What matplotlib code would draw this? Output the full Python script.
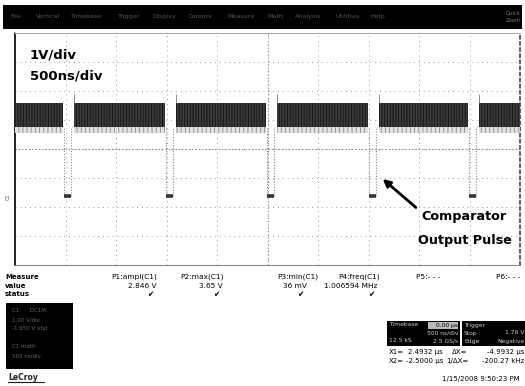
import numpy as np
import matplotlib
matplotlib.use("Agg")
import matplotlib.pyplot as plt
from matplotlib.patches import Rectangle

# scope settings
t_start, t_stop = -2.5, 2.5        # us, 500 ns/div x 10
v_center = 1.65                    # V at screen centre, 1 V/div x 8
pulse_times = [-1.98, -0.97, 0.03, 1.04, 2.03]   # us
pulse_width = 0.07                 # us
band_top = 3.22                    # noisy high level, V
band_bottom = 2.40
band_fringe = 2.20
spike_top = 3.55
v_low = 0.04

menu_items = ["File", "Vertical", "Timebase", "Trigger", "Display", "Cursors",
              "Measure", "Math", "Analysis", "Utilities", "Help"]
menu_x = [10, 36, 70, 117, 152, 188, 227, 267, 295, 335, 370]

meas_labels = ["P1:ampl(C1)", "P2:max(C1)", "P3:min(C1)", "P4:freq(C1)", "P5:- - -", "P6:- - -"]
meas_values = ["2.846 V", "3.65 V", "36 mV", "1.006594 MHz", "", ""]
meas_ok = [True, True, True, True, False, False]
meas_x = [157, 224, 318, 380, 440, 520]
value_x = [157, 223, 307, 378, 440, 520]

W, H = 525, 386


def fx(px):
    return px / W


def fy(py):
    return 1 - py / H


fig = plt.figure(figsize=(W / 100, H / 100), dpi=100)
fig.patch.set_facecolor("white")
plt.rcParams["hatch.linewidth"] = 0.6

# menu bar
fig.patches.append(Rectangle((fx(3), fy(29)), fx(519), 24 / H, transform=fig.transFigure,
                             facecolor="black", edgecolor="none"))
for name, x in zip(menu_items, menu_x):
    fig.text(fx(x), fy(16.5), name, fontsize=4.6, color="#555", va="center")
fig.text(fx(506), fy(13), "Quick", fontsize=3.8, color="#777", va="center")
fig.text(fx(506), fy(20), "Zoom", fontsize=3.8, color="#777", va="center")

# grid area
ax = fig.add_axes([fx(15), fy(265), 505 / W, 232 / H])
ax.set_xlim(t_start, t_stop)
ax.set_ylim(v_center - 4, v_center + 4)
ax.set_xticks(np.linspace(t_start, t_stop, 11))
ax.set_yticks(v_center + np.arange(-4, 5))
ax.tick_params(length=0, labelbottom=False, labelleft=False)
ax.grid(True, linestyle=(0, (1, 4)), color="#9a9a9a", linewidth=0.7)
ax.axhline(v_center, linestyle=(0, (1, 2)), color="#777", linewidth=0.8)
ax.axvline(0, linestyle=(0, (1, 2)), color="#888", linewidth=0.8)
for side, col, ls, lw in [("left", "#222", (0, (2, 1)), 1.4), ("right", "#333", (0, (2, 2)), 1.1),
                          ("top", "#aaa", (0, (3, 1)), 0.8), ("bottom", "#888", (0, (1, 1)), 0.8)]:
    ax.spines[side].set_color(col)
    ax.spines[side].set_linestyle(ls)
    ax.spines[side].set_linewidth(lw)

# trace: noisy high band between pulses
edges = [t_start]
for tp in pulse_times:
    edges += [tp - pulse_width / 2 - 0.01, tp + pulse_width / 2 + 0.025]
edges.append(t_stop)
for a, b in zip(edges[0::2], edges[1::2]):
    xs = np.array([a, b])
    ax.fill_between(xs, band_fringe, band_bottom, facecolor="#e2e2e2", edgecolor="#8a8a8a",
                    hatch="||||", linewidth=0, zorder=3)
    ax.fill_between(xs, band_bottom, band_top, facecolor="#3c3c3c", edgecolor="#111",
                    hatch="||||||", linewidth=0, zorder=4)

for tp in pulse_times:
    fall = tp - pulse_width / 2
    rise = tp + pulse_width / 2
    ax.vlines([fall, rise], v_low, band_bottom, colors="#8a8a8a",
              linestyles=(0, (1, 1.5)), linewidth=0.8, zorder=3)
    ax.vlines(rise + 0.03, band_top, spike_top, colors="#777", linewidth=0.6, zorder=4)
    ax.plot([fall, rise], [v_low, v_low], color="#333", linewidth=2.6,
            solid_capstyle="butt", zorder=5)

# scale labels
fig.text(fx(30), fy(55), "1V/div", fontsize=9.5, weight="bold", va="center")
fig.text(fx(30), fy(76), "500ns/div", fontsize=9.5, weight="bold", va="center")

# annotation
ax.annotate("", xy=(1.12, 0.68), xytext=(1.49, -0.43),
            arrowprops=dict(arrowstyle="-|>", lw=2, color="black", mutation_scale=11), zorder=6)
ax.text(1.52, -0.69, "Comparator", fontsize=9.2, weight="bold", va="center", zorder=6)
ax.text(1.49, -1.49, "Output Pulse", fontsize=9.2, weight="bold", va="center", zorder=6)

fig.text(fx(6), fy(197), "C1", fontsize=3.5, color="#555", rotation=90, va="center")

# measurement table
for label, y in [("Measure", 277), ("value", 285.5), ("status", 294)]:
    fig.text(fx(5), fy(y), label, fontsize=5, weight="bold", va="center")
for lab, val, ok, lx, vx in zip(meas_labels, meas_values, meas_ok, meas_x, value_x):
    fig.text(fx(lx), fy(277), lab, fontsize=5.3, ha="right", va="center")
    if val:
        fig.text(fx(vx), fy(285.5), val, fontsize=5.3, ha="right", va="center")
    if ok:
        fig.text(fx(vx - 4), fy(294), "\u2714", fontsize=5.5, ha="right", va="center")

# channel descriptor box
fig.patches.append(Rectangle((fx(6), fy(369)), 67 / W, 66 / H, transform=fig.transFigure,
                             facecolor="black", edgecolor="none"))
for i, s in enumerate(["C1      DC1M", "1.00 V/div", "-1.650 V ofst", "", "C1 math", "500 ns/div"]):
    fig.text(fx(12), fy(311 + i * 9), s, fontsize=4, color="#666", va="center")
fig.text(fx(8), fy(378), "LeCroy", fontsize=5.5, weight="bold", color="#222", va="center")
fig.lines.append(plt.Line2D([fx(8), fx(44)], [fy(382), fy(382)], transform=fig.transFigure,
                            color="#222", linewidth=0.8))

# timebase / trigger boxes
for x0, x1 in [(387, 460), (462, 525)]:
    fig.patches.append(Rectangle((fx(x0), fy(346)), (x1 - x0) / W, 25 / H,
                                 transform=fig.transFigure, facecolor="black", edgecolor="none"))
fig.patches.append(Rectangle((fx(428), fy(329)), 30 / W, 7 / H, transform=fig.transFigure,
                             facecolor="#bbb", edgecolor="none"))
fig.text(fx(389), fy(325), "Timebase", fontsize=4.3, color="#ccc", va="center")
fig.text(fx(458), fy(325), "0.00 \u00b5s", fontsize=4.3, color="black", ha="right", va="center")
fig.text(fx(458), fy(333), "500 ns/div", fontsize=4.3, color="#ccc", ha="right", va="center")
fig.text(fx(389), fy(341), "12.5 kS", fontsize=4.3, color="#ccc", va="center")
fig.text(fx(458), fy(341), "2.5 GS/s", fontsize=4.3, color="#ccc", ha="right", va="center")
fig.text(fx(464), fy(325), "Trigger", fontsize=4.3, color="#ccc", va="center")
fig.text(fx(464), fy(333), "Stop", fontsize=4.3, color="#ccc", va="center")
fig.text(fx(524), fy(333), "1.76 V", fontsize=4.3, color="#ccc", ha="right", va="center")
fig.text(fx(464), fy(341), "Edge", fontsize=4.3, color="#ccc", va="center")
fig.text(fx(524), fy(341), "Negative", fontsize=4.3, color="#ccc", ha="right", va="center")

fig.text(fx(389), fy(352), "X1=", fontsize=5, va="center")
fig.text(fx(443), fy(352), "2.4932 \u00b5s", fontsize=5, ha="right", va="center")
fig.text(fx(452), fy(352), "\u0394X=", fontsize=5, va="center")
fig.text(fx(524), fy(352), "-4.9932 \u00b5s", fontsize=5, ha="right", va="center")
fig.text(fx(389), fy(361), "X2=", fontsize=5, va="center")
fig.text(fx(443), fy(361), "-2.5000 \u00b5s", fontsize=5, ha="right", va="center")
fig.text(fx(446), fy(361), "1/\u0394X=", fontsize=5, va="center")
fig.text(fx(524), fy(361), "-200.27 kHz", fontsize=5, ha="right", va="center")
fig.text(fx(520), fy(379), "1/15/2008 9:50:23 PM", fontsize=5, ha="right", va="center")

fig.savefig("out.png", dpi=100)
